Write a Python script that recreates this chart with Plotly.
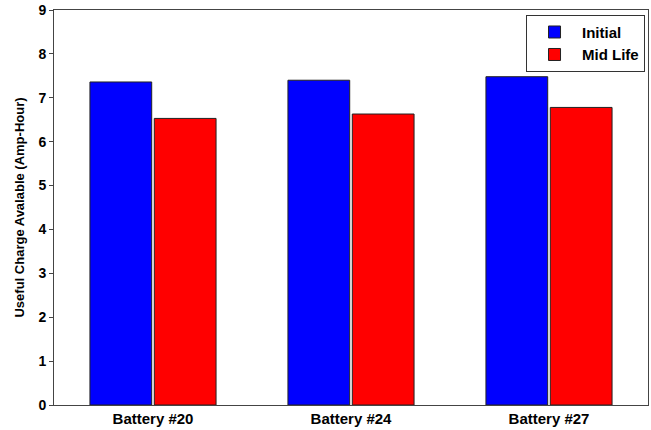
import plotly.graph_objects as go

categories = ["Battery #20", "Battery #24", "Battery #27"]
initial = [7.36, 7.40, 7.48]
mid_life = [6.53, 6.63, 6.78]
y_ticks = [0, 1, 2, 3, 4, 5, 6, 7, 8, 9]

fig = go.Figure()
fig.add_trace(go.Bar(x=categories, y=initial, name="Initial",
                     marker=dict(color="#0000ff", line=dict(color="#222222", width=1))))
fig.add_trace(go.Bar(x=categories, y=mid_life, name="Mid Life",
                     marker=dict(color="#ff0000", line=dict(color="#222222", width=1))))

font_b = dict(family="Liberation Sans, Arial, sans-serif", size=13, color="black")

fig.update_layout(
    width=651, height=430,
    margin=dict(l=54, r=3, t=10, b=25, autoexpand=False),
    paper_bgcolor="white", plot_bgcolor="white",
    barmode="group", bargap=0.35, bargroupgap=0.04,
    font=font_b,
    showlegend=True,
    legend=dict(x=0.995, y=0.988, xanchor="right", yanchor="top",
                bgcolor="white", bordercolor="#333333", borderwidth=1,
                font=dict(family="Liberation Sans, Arial, sans-serif", size=15, color="black", weight="bold"),
                tracegroupgap=0, itemwidth=45),
)
fig.update_xaxes(showline=True, linecolor="#444444", linewidth=1, mirror=True,
                 ticks="", tickfont=dict(size=15, weight="bold"), automargin=False,
                 showgrid=False, range=[-0.5, 2.5])
fig.update_yaxes(showline=True, linecolor="#444444", linewidth=1, mirror=True,
                 ticks="outside", ticklen=4, tickcolor="#444444", automargin=False,
                 tickvals=y_ticks, range=[0, 9], showgrid=False, zeroline=False,
                 tickfont=dict(size=14, weight="bold"),
                 title=dict(text="Useful Charge Avalable (Amp-Hour)", standoff=10,
                            font=dict(size=13, weight="bold")))

fig.write_html("out.html", config={"displayModeBar": False},
               post_script="document.body.style.margin='0';document.body.style.overflow='hidden';")
